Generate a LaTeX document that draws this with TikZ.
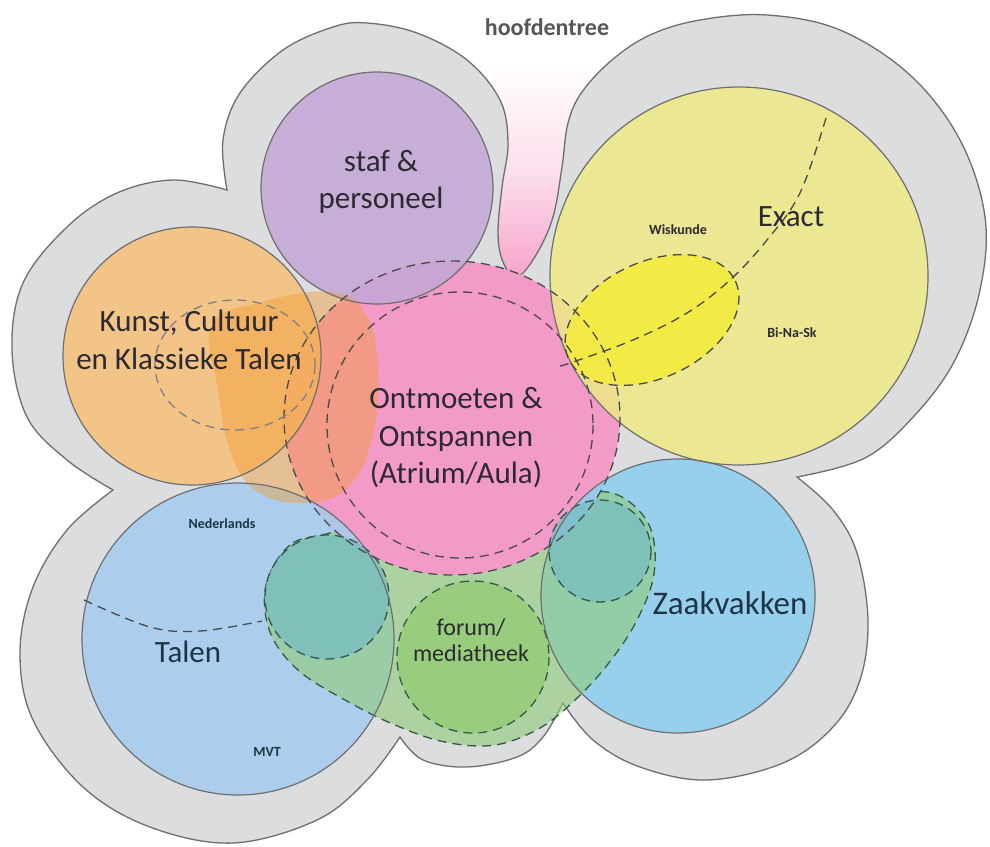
\documentclass[tikz,border=0pt]{standalone}
\usepackage{fontspec}
\setmainfont{Carlito}
\definecolor{bldgray}{HTML}{DCDDDF}
\definecolor{linegray}{HTML}{6E6E6E}
\definecolor{entrpink}{HTML}{F5A0C8}
\definecolor{pinkc}{HTML}{F39BC8}
\definecolor{stafc}{HTML}{C3A6D6}
\definecolor{kunstc}{HTML}{F6C17C}
\definecolor{blobc}{HTML}{F39A2E}
\definecolor{exactc}{HTML}{EEE985}
\definecolor{wiskc}{HTML}{F4EC34}
\definecolor{talenc}{HTML}{A6CCEE}
\definecolor{zaakc}{HTML}{8ECFEF}
\definecolor{greenc}{HTML}{8ECB6E}
\definecolor{lgreenc}{HTML}{8FCB78}
\definecolor{tealc}{HTML}{78BCC2}
\definecolor{dashc}{HTML}{4A4A4A}
\definecolor{gdashc}{HTML}{34584A}
\definecolor{labelc}{HTML}{2C2A30}
\definecolor{bluelab}{HTML}{1E3446}
\begin{document}
\begin{tikzpicture}[x=1pt, y=-1pt,
    zone/.style={draw=linegray, line width=1.2pt},
    part/.style={draw=dashc, line width=1.3pt, dash pattern=on 9pt off 6pt},
    gpart/.style={part, draw=gdashc},
    big/.style={font=\fontsize{31}{37.5}\selectfont, align=center, text=labelc},
    mid/.style={font=\fontsize{24}{25.5}\selectfont, align=center, text=labelc},
    small/.style={font=\bfseries\fontsize{14}{16}\selectfont, text=labelc}]
  \useasboundingbox (0,0) rectangle (990,846);

  % entrance
  \shade[top color=white, bottom color=entrpink, middle color=entrpink!35] (492,62) rectangle (588,285);

  % building outline
  \draw[fill=bldgray, draw=linegray, line width=1.3pt]
    plot[smooth, tension=0.6] coordinates {(227,190) (223,140) (240,93) (283,50) (333,27) (367,23) (417,33) (467,60) (500,100) (508,143) (502,187) (498,233) (503,262) (517,277) (536,255) (553,217) (562,167) (568,123) (582,92) (612,60) (650,35) (700,20) (767,15) (840,30) (910,75) (960,140) (985,217) (980,290) (955,360) (915,415) (865,458) (797,477)}
    -- plot[smooth, tension=0.6] coordinates {(797,477) (833,510) (857,553) (868,620) (860,680) (833,727) (783,763) (707,780) (640,767) (593,740) (563,703)}
    -- plot[smooth, tension=0.6] coordinates {(563,703) (543,737) (517,757) (467,767) (423,760) (400,737)}
    -- plot[smooth, tension=0.6] coordinates {(400,737) (367,780) (317,820) (233,843) (150,827) (83,787) (33,720) (20,653) (33,587) (67,530) (113,490)}
    -- plot[smooth, tension=0.6] coordinates {(113,490) (67,460) (27,417) (12,350) (23,283) (67,227) (117,193) (173,180) (227,190)}
    -- cycle;

  % areas
  \fill[pinkc] (452,418) ellipse [x radius=168, y radius=157];
  \fill[talenc, fill opacity=0.88] (238,639) circle (156);
  \fill[zaakc, fill opacity=0.88] (678,596) circle (137);
  \fill[exactc, fill opacity=0.85] (739,276) circle (189);
  \fill[kunstc, fill opacity=0.88] (192,356) circle (129);
  \fill[stafc, fill opacity=0.85] (377,188) circle (116);
  \fill[blobc, fill opacity=0.42] plot[smooth cycle, tension=0.7] coordinates {(212,325) (262,302) (330,292) (366,314) (378,370) (372,440) (345,490) (300,503) (255,490) (230,450) (218,390)};
  \fill[wiskc, fill opacity=0.8, rotate around={25:(652,320)}] (652,320) ellipse [x radius=92, y radius=58];

  \begin{scope}[even odd rule]
    \clip (0,0) rectangle (990,846) (452,418) ellipse [x radius=168, y radius=157];
    \filldraw[fill=lgreenc, fill opacity=0.6, gpart] plot[smooth cycle, tension=0.6] coordinates {(330,533) (290,545) (266,585) (270,632) (298,670) (345,700) (395,725) (445,742) (495,745) (540,728) (575,700) (608,664) (636,622) (654,574) (650,527) (622,497) (588,492) (545,505) (480,520) (400,515)};
  \end{scope}
  \filldraw[fill=greenc, fill opacity=0.7, gpart] (473,657) circle (76);
  \filldraw[fill=tealc, fill opacity=0.75, gpart] (327,597) circle (62);
  \filldraw[fill=tealc, fill opacity=0.75, gpart] (600,551) circle (51);

  % outlines
  \draw[zone] (238,639) circle (156);
  \draw[zone] (678,596) circle (137);
  \draw[zone] (739,276) circle (189);
  \draw[zone] (192,356) circle (129);
  \draw[zone] (377,188) circle (116);

  % sub-areas
  \draw[part] (452,418) ellipse [x radius=168, y radius=157];
  \draw[part] (460,425) circle (133);
  \draw[part, draw=dashc!70] (235,365) ellipse [x radius=80, y radius=65];
  \draw[part, rotate around={25:(652,320)}] (652,320) ellipse [x radius=92, y radius=58];
  \draw[part] plot[smooth, tension=0.6] coordinates {(826,118) (800,193) (767,240) (730,280) (687,313) (633,340) (573,362) (560,366)};
  \draw[part] plot[smooth, tension=0.6] coordinates {(84,600) (150,627) (200,631) (262,621)};

  % labels
  \node[font=\bfseries\fontsize{24}{26}\selectfont, text=labelc!80] (entree) at (547,27) {hoofdentree};
  \node[big] (staf) at (381,182) {staf \&\\personeel};
  \node[big] (kunst) at (189,340) {Kunst, Cultuur\\en Klassieke Talen};
  \node[big] (ontm) at (456,438) {Ontmoeten \&\\Ontspannen\\(Atrium/Aula)};
  \node[big] (exact) at (791,217) {Exact};
  \node[big, text=bluelab] (talen) at (188,652) {Talen};
  \node[big, text=bluelab, font=\fontsize{33}{37}\selectfont] (zaak) at (730,603) {Zaakvakken};
  \node[mid] (forum) at (471,640) {forum/\\mediatheek};
  \node[small] (wisk) at (678,230) {Wiskunde};
  \node[small] (binask) at (792,333) {Bi-Na-Sk};
  \node[small, text=bluelab] (ned) at (222,524) {Nederlands};
  \node[small, text=bluelab] (mvt) at (267,752) {MVT};
\end{tikzpicture}
\end{document}
